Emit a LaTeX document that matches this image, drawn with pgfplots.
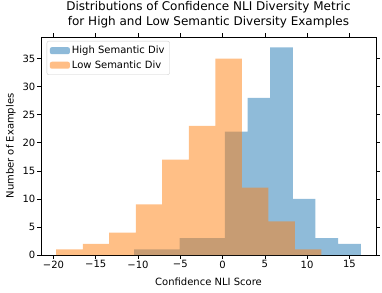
\documentclass[border=0pt]{standalone}
\usepackage{pgfplots}
\pgfplotsset{compat=1.18}
\usepackage{fontspec}
\setmainfont{DejaVu Sans}
\definecolor{mblue}{HTML}{1F77B4}
\definecolor{morange}{HTML}{FF7F0E}
\begin{document}
\begin{tikzpicture}
\path[use as bounding box] (-41bp,-38bp) rectangle (341bp,255bp);
\begin{axis}[
  at={(0,0)}, anchor=south west,
  scale only axis,
  width=335bp, height=218bp,
  xmin=-21.48, xmax=18.15,
  ymin=0, ymax=38.85,
  xtick={-20,-15,-10,-5,0,5,10,15},
  xticklabels={−20,−15,−10,−5,0,5,10,15},
  ytick={0,5,10,15,20,25,30,35},
  yticklabels={0,5,10,15,20,25,30,35},
  tick align=outside,
  tick style={black, line width=0.6pt},
  major tick length=3.5bp,
  ticklabel style={font=\fontsize{10bp}{12bp}\selectfont},
  xticklabel style={inner sep=2bp},
  yticklabel style={inner sep=2bp},
  xlabel={Confidence NLI Score},
  ylabel={Number of Examples},
  label style={font=\fontsize{10bp}{12bp}\selectfont},
  xlabel style={at={(axis description cs:0.5,-0.124)}, anchor=center},
  ylabel style={at={(axis description cs:-0.0896,0.5)}, anchor=center},
  title={Distributions of Confidence NLI Diversity Metric\\for High and Low Semantic Diversity Examples},
  title style={font=\fontsize{12bp}{15bp}\selectfont, align=center, at={(axis description cs:0.5,1.0757)}, anchor=center},
  axis line style={black, line width=0.6pt},
  legend cell align=left,
  legend style={at={(axis description cs:0.017,0.982)}, anchor=north west, draw=black!20, rounded corners=2pt, font=\fontsize{10bp}{12bp}\selectfont, row sep=1.5bp, inner sep=3bp},
  legend image code/.code={\fill[#1] (0bp,-3.5bp) rectangle (20bp,3.5bp);},
]
\addplot[ybar interval, fill=mblue, fill opacity=0.5, draw=none] coordinates {
(-10.45,1) (-7.77,1) (-5.09,3) (-2.41,3) (0.27,22) (2.95,28) (5.63,37) (8.31,10) (10.99,3) (13.67,2) (16.35,2)};
\addlegendentry{High Semantic Div}
\addplot[ybar interval, fill=morange, fill opacity=0.5, draw=none] coordinates {
(-19.68,1) (-16.54,2) (-13.41,4) (-10.27,9) (-7.14,17) (-4.00,23) (-0.86,35) (2.27,12) (5.41,6) (8.55,1) (11.69,1)};
\addlegendentry{Low Semantic Div}
\end{axis}
\end{tikzpicture}
\end{document}
